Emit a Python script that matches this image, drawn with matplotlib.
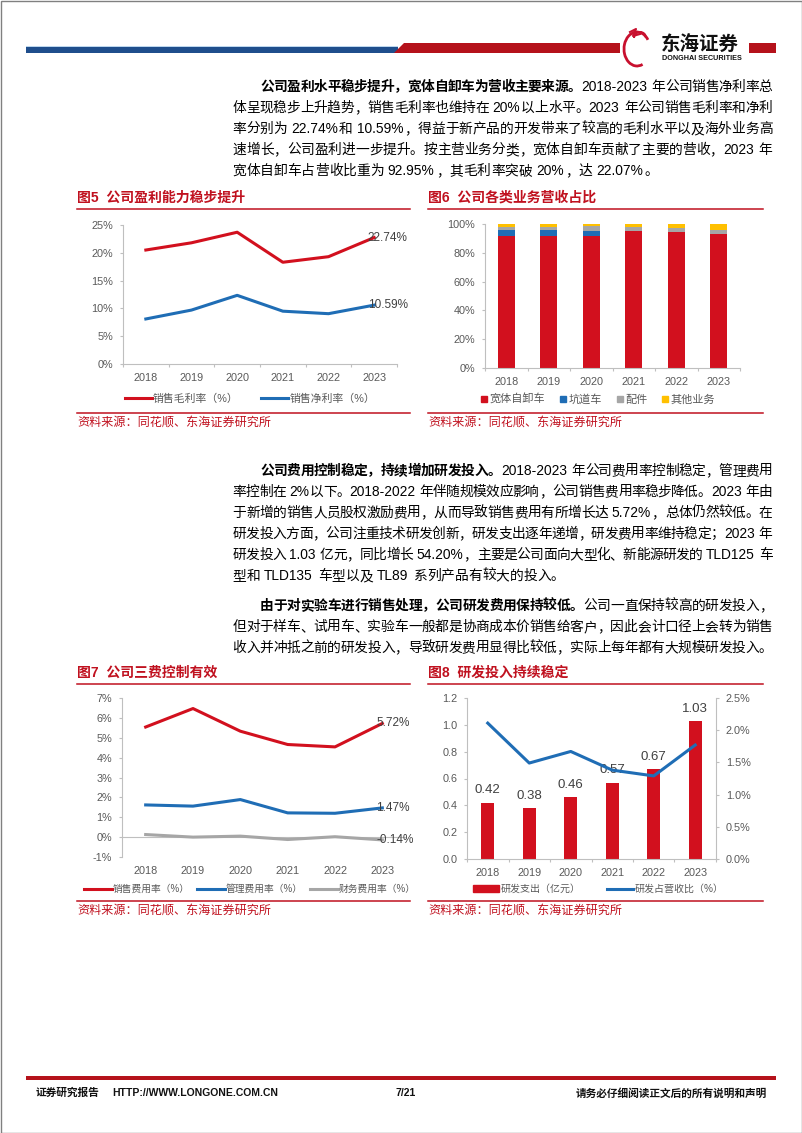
import re
import numpy as np
import matplotlib
matplotlib.use('Agg')
import matplotlib.pyplot as plt
from matplotlib.patches import Rectangle, Polygon, Arc, Patch
from matplotlib.lines import Line2D

plt.rcParams['font.family'] = ['Liberation Sans', 'Noto Sans CJK SC']

# ---- data ----
years = ['2018', '2019', '2020', '2021', '2022', '2023']

gross_margin = [20.5, 21.8, 23.7, 18.3, 19.3, 22.74]
net_margin = [8.1, 9.7, 12.35, 9.5, 9.05, 10.59]

rev_wide_body = [91.9, 91.9, 91.4, 94.9, 94.7, 92.95]
rev_tunnel = [3.7, 4.2, 3.5, 0.0, 0.0, 0.0]
rev_parts = [2.1, 1.8, 3.5, 2.8, 2.8, 3.1]
rev_other = [2.3, 2.1, 1.6, 2.3, 2.5, 3.95]

sell_rate = [5.54, 6.47, 5.33, 4.66, 4.54, 5.72]
admin_rate = [1.62, 1.56, 1.89, 1.22, 1.20, 1.47]
fin_rate = [0.13, 0.0, 0.05, -0.12, 0.02, -0.14]

rd_spend = [0.42, 0.38, 0.46, 0.57, 0.67, 1.03]
rd_ratio = [2.11, 1.49, 1.67, 1.38, 1.29, 1.77]

RED = '#C0111F'
C_RED = '#D2101E'
C_BLUE = '#1F6DB5'
C_GRAY = '#A6A6A6'
C_YEL = '#FFC000'
AX_C = '#BFBFBF'
TK_C = '#595959'

W, H = 802, 1133
fig = plt.figure(figsize=(W / 100, H / 100), dpi=100)
page = fig.add_axes([0, 0, 1, 1])
page.set_xlim(0, W)
page.set_ylim(H, 0)
page.axis('off')
renderer = fig.canvas.get_renderer()


def axes_px(x0, y0, x1, y1):
    ax = fig.add_axes([x0 / W, 1 - y1 / H, (x1 - x0) / W, (y1 - y0) / H])
    ax.set_facecolor('none')
    return ax


# ---- page frame & header ----
page.add_patch(Rectangle((0.5, 0.5), W - 1, H - 1, fill=False, ec='#808080', lw=1))
page.add_patch(Rectangle((26, 45.5), 372, 1.5, color='#BDD7EE', lw=0))
page.add_patch(Rectangle((26, 47), 372, 6, color='#1F4E8C', lw=0))
page.add_patch(Polygon([(394, 53), (404, 43), (620, 43), (620, 53)], color='#B5121B', lw=0))
page.add_patch(Rectangle((749, 43), 27, 10, color='#B5121B', lw=0))
page.add_patch(Arc((637, 49), 26, 34, theta1=70, theta2=320, color='#C8102E', lw=2))
page.add_patch(Arc((640, 38), 12, 12, theta1=180, theta2=360, color='#C8102E', lw=1.5))
page.plot([630, 636, 633, 640], [32, 29, 36, 34], color='#C8102E', lw=1.5)
page.text(661, 45, '东海证券', fontsize=14, fontweight='bold', color='#111111', va='center', ha='left')
page.text(662, 58.5, 'DONGHAI SECURITIES', fontsize=5.2, fontweight='bold', color='#111111', va='center', ha='left')

# ---- body text ----
BODY_FS = 9.9
EM = BODY_FS * 100 / 72
tok_re = re.compile(r'[A-Za-z0-9.%\-]+| |.')


def body_line(y, segments, indent=False, justify=True, x0=232, x1=772):
    start = x0 + (2 * EM if indent else 0)
    items = []
    for txt, bold in segments:
        for tok in tok_re.findall(txt):
            if tok == ' ':
                items.append((None, 0.28 * EM, 0))
            elif ord(tok[0]) > 0x2E80:
                t = page.text(0, y + 5, tok, fontsize=BODY_FS, va='baseline', ha='left',
                              fontweight='bold' if bold else 'normal', color='#000000')
                items.append((t, EM, 0.04 * EM))
            else:
                t = page.text(0, y + 5, tok, fontsize=BODY_FS, va='baseline', ha='left',
                              fontweight='bold' if bold else 'normal', color='#000000')
                w = t.get_window_extent(renderer).width
                items.append((t, w + 0.1 * EM, 0.05 * EM))
    total = sum(w for _, w, _ in items)
    gaps = len(items) - 1
    extra = (x1 - start - total) / gaps if (justify and gaps > 0) else 0
    x = start
    for t, w, off in items:
        if t is not None:
            t.set_x(x + off)
        x += w + extra


body_line(86, [('公司盈利水平稳步提升，宽体自卸车为营收主要来源。', True),
               ('2018-2023 年公司销售净利率总', False)], indent=True)
body_line(107, [('体呈现稳步上升趋势，销售毛利率也维持在 20%以上水平。2023 年公司销售毛利率和净利', False)])
body_line(128, [('率分别为 22.74%和 10.59%，得益于新产品的开发带来了较高的毛利水平以及海外业务高', False)])
body_line(149, [('速增长，公司盈利进一步提升。按主营业务分类，宽体自卸车贡献了主要的营收，2023 年', False)])
body_line(170, [('宽体自卸车占营收比重为 92.95%，其毛利率突破 20%，达 22.07%。', False)], justify=False)

body_line(470, [('公司费用控制稳定，持续增加研发投入。', True),
                ('2018-2023 年公司费用率控制稳定，管理费用', False)], indent=True)
body_line(491, [('率控制在 2%以下。2018-2022 年伴随规模效应影响，公司销售费用率稳步降低。2023 年由', False)])
body_line(512, [('于新增的销售人员股权激励费用，从而导致销售费用有所增长达 5.72%，总体仍然较低。在', False)])
body_line(533, [('研发投入方面，公司注重技术研发创新，研发支出逐年递增，研发费用率维持稳定；2023 年', False)])
body_line(554, [('研发投入 1.03 亿元，同比增长 54.20%，主要是公司面向大型化、新能源研发的 TLD125 车', False)])
body_line(575, [('型和 TLD135 车型以及 TL89 系列产品有较大的投入。', False)], justify=False)

body_line(605, [('由于对实验车进行销售处理，公司研发费用保持较低。', True),
                ('公司一直保持较高的研发投入，', False)], indent=True)
body_line(626, [('但对于样车、试用车、实验车一般都是协商成本价销售给客户，因此会计口径上会转为销售', False)])
body_line(647, [('收入并冲抵之前的研发投入，导致研发费用显得比较低，实际上每年都有大规模研发投入。', False)])


# ---- chart frames (titles, rules, sources) ----
def frame(x0, x1, y_title, y_rule2):
    page.plot([x0, x1], [y_title + 11, y_title + 11], color=RED, lw=1.1)
    page.plot([x0, x1], [y_rule2, y_rule2], color=RED, lw=1.1)
    page.text(x0, y_rule2 + 10, '资料来源：同花顺、东海证券研究所', fontsize=8.7, color=RED,
              va='center', ha='left')


def title(x0, y, num, txt):
    page.text(x0, y, '图%d  %s' % (num, txt), fontsize=10, fontweight='bold', color=RED,
              va='center', ha='left')


title(77, 198, 5, '公司盈利能力稳步提升')
title(428, 198, 6, '公司各类业务营收占比')
title(77, 673, 7, '公司三费控制有效')
title(428, 673, 8, '研发投入持续稳定')
frame(77, 410, 198, 413)
frame(428, 763, 198, 413)
frame(77, 410, 673, 901)
frame(428, 763, 673, 901)


def style(ax, bottom=True):
    for s in ['top', 'right']:
        ax.spines[s].set_visible(False)
    ax.spines['left'].set_color(AX_C)
    ax.spines['bottom'].set_color(AX_C)
    ax.spines['bottom'].set_visible(bottom)
    ax.tick_params(axis='y', colors=TK_C, labelsize=7.8, length=2.5, width=0.8, pad=4.5)
    ax.tick_params(axis='y', color=AX_C)
    ax.set_xlim(-0.5, 5.5)
    ax.set_xticks(range(6))
    ax.set_xticklabels(years)
    ax.tick_params(axis='x', colors=TK_C, labelsize=7.8, length=0, pad=6.5)
    if bottom:
        ax.set_xticks(np.arange(-0.5, 6, 1), minor=True)
        ax.tick_params(axis='x', which='minor', length=2.5, color=AX_C, width=0.8)


def legend_at(handles, labels, cx, cy, fs=8, **kw):
    fig.legend(handles, labels, loc='center', bbox_to_anchor=(cx / W, 1 - cy / H), frameon=False,
               fontsize=fs, labelcolor=TK_C, **kw)


# ---- chart 5 ----
ax5 = axes_px(123, 225, 397, 364)
ax5.plot(range(6), gross_margin, color=C_RED, lw=2.2)
ax5.plot(range(6), net_margin, color=C_BLUE, lw=2.2)
ax5.set_ylim(0, 25)
ax5.set_yticks(range(0, 26, 5))
ax5.set_yticklabels(['%d%%' % v for v in range(0, 26, 5)])
style(ax5)
for ser in (gross_margin, net_margin):
    ax5.annotate('%.2f%%' % ser[-1], (5, ser[-1]), xytext=(-4.5, 0), textcoords='offset points',
                 ha='left', va='center', fontsize=8.5, color='#404040', annotation_clip=False)
legend_at([Line2D([], [], color=C_RED, lw=2.2), Line2D([], [], color=C_BLUE, lw=2.2)],
          ['销售毛利率（%）', '销售净利率（%）'], 250, 399, fs=7.8, ncol=2, handlelength=2.5,
          handletextpad=0.1, columnspacing=2.1)

# ---- chart 6 ----
ax6 = axes_px(485, 224, 740, 368)
x = np.arange(6)
bw = 0.4
b1 = np.array(rev_wide_body)
b2 = b1 + np.array(rev_tunnel)
b3 = b2 + np.array(rev_parts)
ax6.bar(x, rev_wide_body, bw, color=C_RED)
ax6.bar(x, rev_tunnel, bw, bottom=b1, color=C_BLUE)
ax6.bar(x, rev_parts, bw, bottom=b2, color=C_GRAY)
ax6.bar(x, rev_other, bw, bottom=b3, color=C_YEL)
ax6.set_ylim(0, 100)
ax6.set_yticks(range(0, 101, 20))
ax6.set_yticklabels(['%d%%' % v for v in range(0, 101, 20)])
style(ax6)
sq = [Line2D([], [], marker='s', ls='', ms=5, color=c) for c in (C_RED, C_BLUE, C_GRAY, C_YEL)]
legend_at(sq, ['宽体自卸车', '坑道车', '配件', '其他业务'], 598, 399, ncol=4,
          handlelength=0.6, handletextpad=0.2, columnspacing=1.3)

# ---- chart 7 ----
ax7 = axes_px(122, 698, 406, 857)
ax7.plot(range(6), sell_rate, color=C_RED, lw=2.2)
ax7.plot(range(6), admin_rate, color=C_BLUE, lw=2.2)
ax7.plot(range(6), fin_rate, color=C_GRAY, lw=2.2)
ax7.set_ylim(-1, 7)
ax7.set_yticks(range(-1, 8))
ax7.set_yticklabels(['%d%%' % v for v in range(-1, 8)])
style(ax7, bottom=False)
ax7.axhline(0, color=AX_C, lw=0.8, zorder=0)
for ser in (sell_rate, admin_rate, fin_rate):
    ax7.annotate('%.2f%%' % ser[-1], (5, ser[-1]), xytext=(-4.5, 0), textcoords='offset points',
                 ha='left', va='center', fontsize=8.5, color='#404040', annotation_clip=False)
legend_at([Line2D([], [], color=c, lw=2.2) for c in (C_RED, C_BLUE, C_GRAY)],
          ['销售费用率（%）', '管理费用率（%）', '财务费用率（%）'], 250, 889, fs=7, ncol=3,
          handlelength=2.8, handletextpad=0.1, columnspacing=0.8)

# ---- chart 8 ----
ax8 = axes_px(467, 698, 716, 859)
ax8.bar(x, rd_spend, 0.32, color=C_RED)
ax8.set_ylim(0, 1.2)
ax8.set_yticks(np.arange(0, 1.21, 0.2))
ax8.set_yticklabels(['%.1f' % v for v in np.arange(0, 1.21, 0.2)])
style(ax8)
for i, v in enumerate(rd_spend):
    ax8.annotate('%.2f' % v, (i, v), xytext=(0, 4.5), textcoords='offset points',
                 ha='center', va='bottom', fontsize=9.5, color='#404040')
ax8r = ax8.twinx()
ax8r.set_facecolor('none')
ax8r.plot(range(6), rd_ratio, color=C_BLUE, lw=2.2)
ax8r.set_ylim(0, 2.5)
ax8r.set_yticks(np.arange(0, 2.51, 0.5))
ax8r.set_yticklabels(['%.1f%%' % v for v in np.arange(0, 2.51, 0.5)])
for s in ['top', 'left', 'bottom']:
    ax8r.spines[s].set_visible(False)
ax8r.spines['right'].set_color(AX_C)
ax8r.tick_params(axis='y', colors=TK_C, labelsize=7.8, length=2.5, width=0.8, pad=4.5)
ax8r.tick_params(axis='y', color=AX_C)
legend_at([Patch(color=C_RED), Line2D([], [], color=C_BLUE, lw=2.2)],
          ['研发支出（亿元）', '研发占营收比（%）'], 598, 889, fs=7.2, ncol=2,
          handlelength=2.6, handletextpad=0.2, columnspacing=2.6)

# ---- footer ----
page.add_patch(Rectangle((26, 1076), 750, 4, color='#B5121B', lw=0))
page.text(36, 1093, '证券研究报告', fontsize=7.7, fontweight='bold', color='#111111', va='center')
page.text(112, 1093, 'HTTP://WWW.LONGONE.COM.CN', fontsize=7.5, fontweight='bold', color='#111111',
          va='center')
page.text(406, 1093, '7/21', fontsize=7.5, fontweight='bold', color='#111111', va='center', ha='center')
page.text(767, 1093, '请务必仔细阅读正文后的所有说明和声明', fontsize=7.7, fontweight='bold',
          color='#111111', va='center', ha='right')

fig.savefig('out.png', dpi=100)
